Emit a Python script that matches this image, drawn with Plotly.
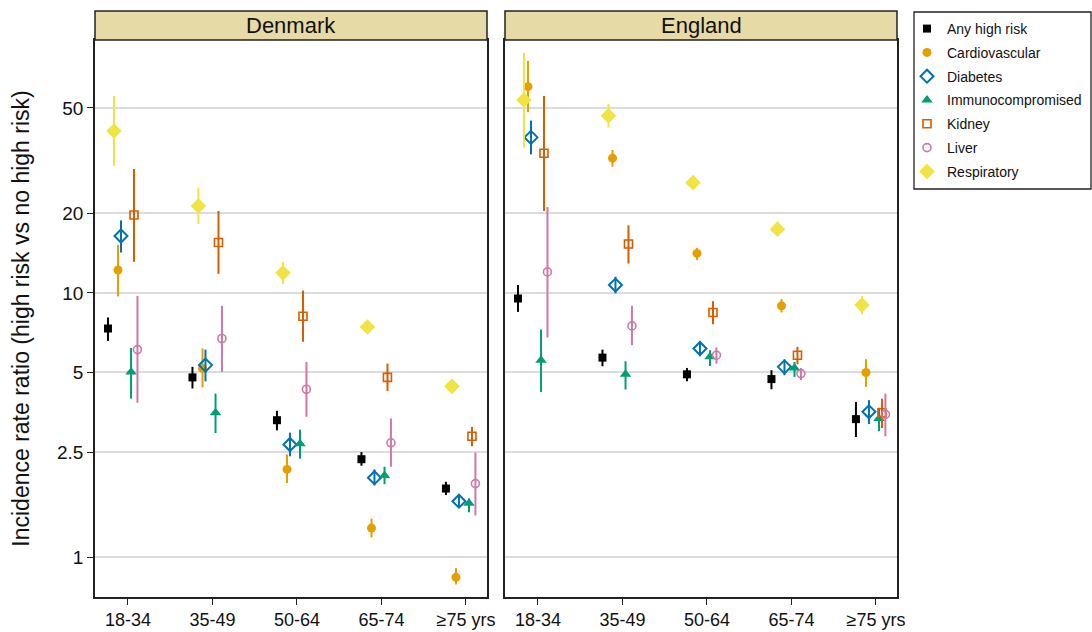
import plotly.graph_objects as go

# Age groups on the x axis
age_groups = ["18-34", "35-49", "50-64", "65-74", "≥75 yrs"]
countries = ["Denmark", "England"]
series_names = ["Any high risk", "Cardiovascular", "Diabetes", "Immunocompromised",
                "Kidney", "Liver", "Respiratory"]

# Incidence rate ratios (estimate, lower 95% CI, upper 95% CI) per age group
# --- Denmark ---
dk_any_est = [7.33, 4.79, 3.30, 2.35, 1.82]
dk_any_lo = [6.58, 4.35, 3.02, 2.22, 1.72]
dk_any_hi = [8.07, 5.25, 3.58, 2.50, 1.93]

dk_cardio_est = [12.2, 5.18, 2.15, 1.29, 0.84]
dk_cardio_lo = [9.7, 4.39, 1.91, 1.19, 0.79]
dk_cardio_hi = [15.2, 6.16, 2.45, 1.40, 0.91]

dk_diab_est = [16.4, 5.33, 2.67, 2.00, 1.63]
dk_diab_lo = [14.2, 4.63, 2.41, 1.87, 1.55]
dk_diab_hi = [18.8, 6.10, 2.96, 2.15, 1.72]

dk_immuno_est = [5.02, 3.52, 2.69, 2.04, 1.60]
dk_immuno_lo = [3.98, 2.95, 2.36, 1.89, 1.48]
dk_immuno_hi = [6.19, 4.16, 3.04, 2.20, 1.67]

dk_kidney_est = [19.7, 15.5, 8.16, 4.79, 2.87]
dk_kidney_lo = [13.1, 11.8, 6.53, 4.25, 2.63]
dk_kidney_hi = [29.4, 20.4, 10.2, 5.40, 3.11]

dk_liver_est = [6.10, 6.72, 4.32, 2.71, 1.90]
dk_liver_lo = [3.84, 5.02, 3.40, 2.20, 1.44]
dk_liver_hi = [9.74, 8.93, 5.48, 3.35, 2.49]

dk_resp_est = [40.9, 21.3, 11.9, 7.43, 4.43]
dk_resp_lo = [30.2, 18.2, 10.8, 7.02, 4.28]
dk_resp_hi = [55.5, 25.0, 13.1, 7.77, 4.59]

# --- England ---
en_any_est = [9.52, 5.69, 4.92, 4.72, 3.33]
en_any_lo = [8.47, 5.28, 4.63, 4.32, 2.85]
en_any_hi = [10.7, 6.10, 5.20, 5.10, 3.87]

en_cardio_est = [60.2, 32.3, 14.1, 8.93, 5.00]
en_cardio_lo = [48.2, 30.0, 13.3, 8.43, 4.41]
en_cardio_hi = [75.3, 34.7, 14.8, 9.47, 5.61]

en_diab_est = [38.7, 10.7, 6.16, 5.25, 3.55]
en_diab_lo = [33.4, 9.95, 5.76, 4.88, 3.19]
en_diab_hi = [44.8, 11.5, 6.58, 5.60, 3.93]

en_immuno_est = [5.56, 4.92, 5.73, 5.20, 3.35]
en_immuno_lo = [4.22, 4.31, 5.29, 4.81, 3.00]
en_immuno_hi = [7.27, 5.51, 6.07, 5.48, 3.68]

en_kidney_est = [33.7, 15.3, 8.43, 5.81, 3.52]
en_kidney_lo = [20.4, 12.9, 7.61, 5.37, 3.08]
en_kidney_hi = [55.5, 18.0, 9.30, 6.25, 3.98]

en_liver_est = [12.0, 7.50, 5.81, 4.95, 3.47]
en_liver_lo = [6.78, 6.34, 5.40, 4.68, 2.87]
en_liver_hi = [21.1, 8.93, 6.22, 5.20, 4.16]

en_resp_est = [53.6, 46.7, 26.1, 17.4, 8.99]
en_resp_lo = [35.4, 42.2, 25.4, 16.4, 8.30]
en_resp_hi = [80.9, 51.8, 26.8, 18.6, 9.72]

# Y axis tick values
y_ticks = [1, 2.5, 5, 10, 20, 50]

data = {
    "Denmark": {
        "Any high risk": (dk_any_est, dk_any_lo, dk_any_hi),
        "Cardiovascular": (dk_cardio_est, dk_cardio_lo, dk_cardio_hi),
        "Diabetes": (dk_diab_est, dk_diab_lo, dk_diab_hi),
        "Immunocompromised": (dk_immuno_est, dk_immuno_lo, dk_immuno_hi),
        "Kidney": (dk_kidney_est, dk_kidney_lo, dk_kidney_hi),
        "Liver": (dk_liver_est, dk_liver_lo, dk_liver_hi),
        "Respiratory": (dk_resp_est, dk_resp_lo, dk_resp_hi),
    },
    "England": {
        "Any high risk": (en_any_est, en_any_lo, en_any_hi),
        "Cardiovascular": (en_cardio_est, en_cardio_lo, en_cardio_hi),
        "Diabetes": (en_diab_est, en_diab_lo, en_diab_hi),
        "Immunocompromised": (en_immuno_est, en_immuno_lo, en_immuno_hi),
        "Kidney": (en_kidney_est, en_kidney_lo, en_kidney_hi),
        "Liver": (en_liver_est, en_liver_lo, en_liver_hi),
        "Respiratory": (en_resp_est, en_resp_lo, en_resp_hi),
    },
}

# Marker style and horizontal dodge (in category units) for each series
styles = {
    "Any high risk": dict(color="#000000", symbol="square", size=8, line=0, dodge=-0.237),
    "Cardiovascular": dict(color="#E69F00", symbol="circle", size=9, line=0, dodge=-0.118),
    "Diabetes": dict(color="#0072B2", symbol="diamond-open", size=10, line=2, dodge=-0.083),
    "Immunocompromised": dict(color="#009E73", symbol="triangle-up", size=10, line=0, dodge=0.036),
    "Kidney": dict(color="#D55E00", symbol="square-open", size=8, line=1.6, dodge=0.071),
    "Liver": dict(color="#CC79A7", symbol="circle-open", size=8, line=1.6, dodge=0.112),
    "Respiratory": dict(color="#F0E442", symbol="diamond", size=12, line=0, dodge=-0.166),
}

FONT = "Arial, Liberation Sans, Helvetica, sans-serif"
W, H = 1092, 632

fig = go.Figure()

for ci, country in enumerate(countries):
    xa = "x" if ci == 0 else "x2"
    ya = "y" if ci == 0 else "y2"
    for name in series_names:
        est, lo, hi = data[country][name]
        st = styles[name]
        xs = [i + 1 + st["dodge"] for i in range(len(age_groups))]
        marker = dict(color=st["color"], symbol=st["symbol"], size=st["size"])
        if st["line"]:
            marker["line"] = dict(color=st["color"], width=st["line"])
        fig.add_trace(go.Scatter(
            x=xs, y=est, mode="markers", name=name,
            legendgroup=name, showlegend=(ci == 0),
            marker=marker,
            error_y=dict(type="data", symmetric=False,
                         array=[h - e for h, e in zip(hi, est)],
                         arrayminus=[e - l for e, l in zip(est, lo)],
                         width=0, thickness=2, color=st["color"]),
            xaxis=xa, yaxis=ya,
            customdata=list(zip(lo, hi)),
            hovertemplate=country + " · " + name +
                          "<br>IRR %{y:.2f} (%{customdata[0]:.2f}–%{customdata[1]:.2f})<extra></extra>",
        ))

# Panel geometry in pixels
px_left = [(95, 487), (505, 897)]
plot_top, plot_bottom = 40, 597
strip_top = 11

def fx(p):
    return p / W

def fy(p):
    return 1 - p / H

y_dom = [fy(plot_bottom), fy(plot_top)]
x_range = [0.6095, 5.249]
y_range = [-0.150, 1.956]

axis_common = dict(showline=True, linecolor="#222222", linewidth=1.5, mirror=True,
                   zeroline=False, automargin=False)

xaxis_common = dict(range=x_range, tickvals=[1, 2, 3, 4, 5], ticktext=age_groups,
                    ticks="outside", ticklen=6, tickwidth=1.3, tickcolor="#222222",
                    showgrid=False, tickfont=dict(size=18, family=FONT))

layout = dict(
    width=W, height=H,
    margin=dict(l=0, r=0, t=0, b=0),
    paper_bgcolor="white", plot_bgcolor="white",
    font=dict(family=FONT, color="#111111"),
    xaxis=dict(domain=[fx(px_left[0][0]), fx(px_left[0][1])], anchor="y",
               **xaxis_common, **axis_common),
    xaxis2=dict(domain=[fx(px_left[1][0]), fx(px_left[1][1])], anchor="y2",
                **xaxis_common, **axis_common),
    yaxis=dict(domain=y_dom, type="log", range=y_range, tickvals=y_ticks,
               ticktext=[str(v) for v in y_ticks], ticks="outside", ticklen=6,
               tickwidth=1.3, tickcolor="#222222", showgrid=True,
               gridcolor="#dcdcdc", gridwidth=1.5,
               tickfont=dict(size=19, family=FONT), anchor="x",
               title=dict(text="Incidence rate ratio (high risk vs no high risk)",
                          font=dict(size=23, family=FONT), standoff=21),
               **axis_common),
    yaxis2=dict(domain=y_dom, type="log", range=y_range, tickvals=y_ticks,
                showticklabels=False, ticks="", showgrid=True,
                gridcolor="#dcdcdc", gridwidth=1.5, anchor="x2", matches="y",
                **axis_common),
    legend=dict(x=fx(907), y=fy(13), xanchor="left", yanchor="top",
                bgcolor="rgba(0,0,0,0)", borderwidth=0,
                font=dict(size=14, family=FONT, color="#111111"),
                tracegroupgap=2.6, itemclick="toggle"),
    showlegend=True,
)

shapes = []
annotations = []
for ci, country in enumerate(countries):
    x0, x1 = px_left[ci]
    shapes.append(dict(type="rect", xref="paper", yref="paper",
                       x0=fx(x0), x1=fx(x1), y0=fy(plot_top), y1=fy(strip_top),
                       fillcolor="#E6DAA6", line=dict(color="#222222", width=1.5),
                       layer="above"))
    annotations.append(dict(text=country, xref="paper", yref="paper",
                            x=fx((x0 + x1) / 2), y=fy((plot_top + strip_top) / 2),
                            xanchor="center", yanchor="middle", showarrow=False,
                            font=dict(size=22, family=FONT, color="#111111")))

# Legend frame
shapes.append(dict(type="rect", xref="paper", yref="paper",
                   x0=fx(914), x1=fx(1091), y0=fy(189), y1=fy(12),
                   fillcolor="rgba(0,0,0,0)", line=dict(color="#222222", width=1.3),
                   layer="above"))

layout["shapes"] = shapes
layout["annotations"] = annotations
fig.update_layout(**layout)

fig.write_html("out.html")
